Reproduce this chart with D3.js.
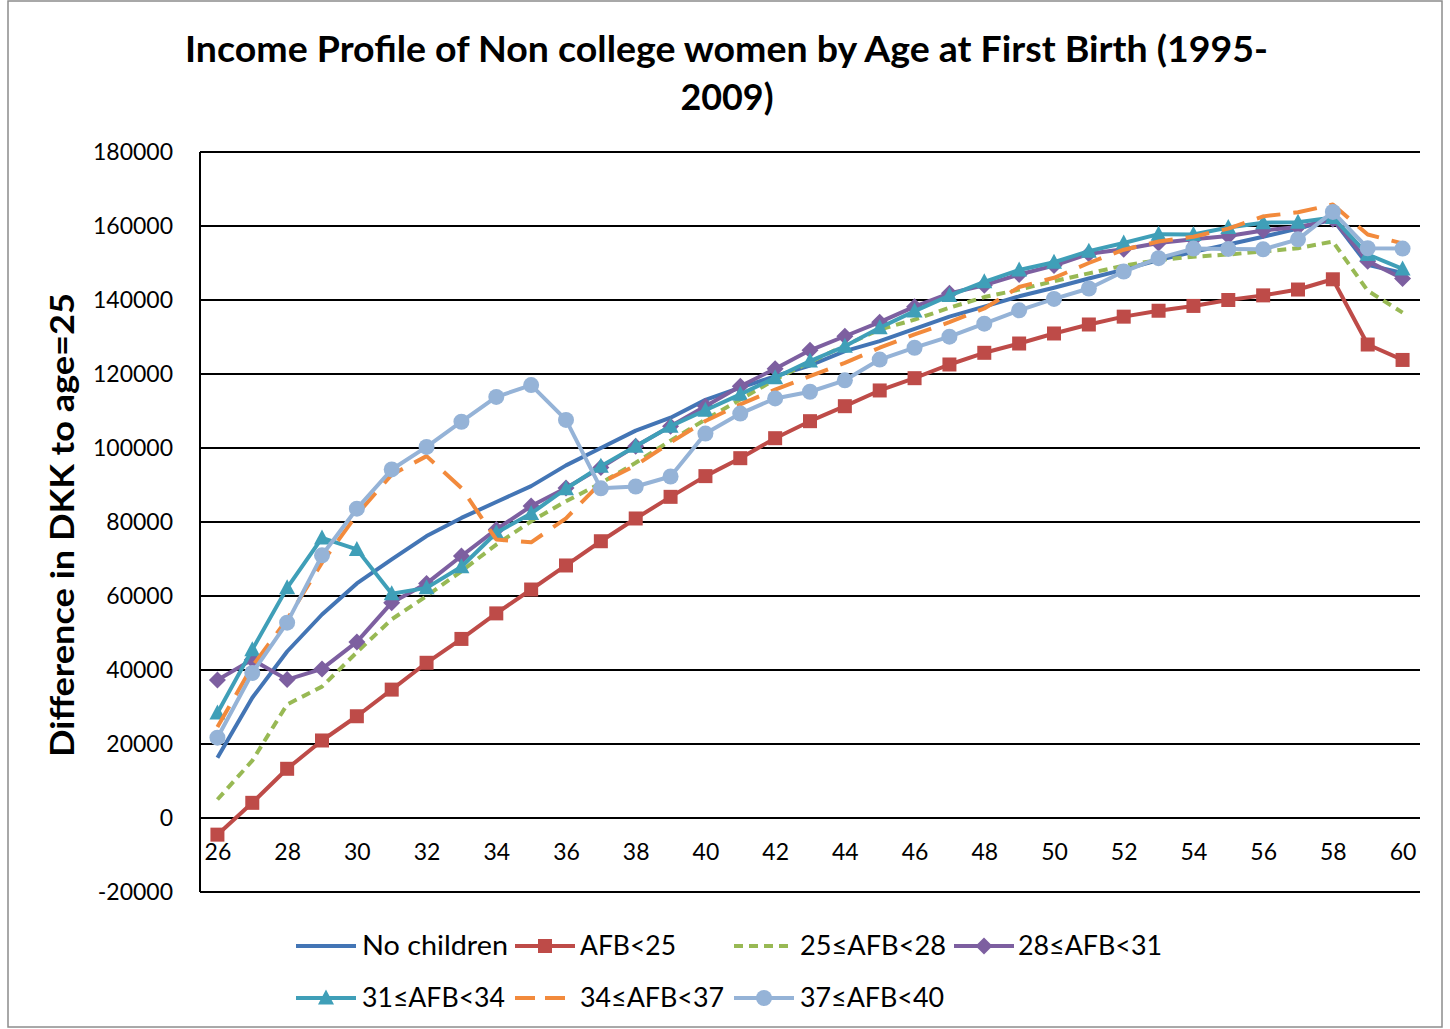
<!DOCTYPE html>
<html>
<head>
<meta charset="utf-8">
<script src="https://cdn.jsdelivr.net/npm/d3@7"></script>
<style>
  html, body { margin: 0; padding: 0; background: #fff; }
  svg { display: block; }
  text { font-family: Lato, "Open Sans", "DejaVu Sans", sans-serif; fill: #000; }
</style>
</head>
<body>
<svg id="chart" width="1450" height="1029"></svg>
<script>
// ---------- DATA ----------
const ages = [26,27,28,29,30,31,32,33,34,35,36,37,38,39,40,41,42,43,44,45,46,47,48,49,50,51,52,53,54,55,56,57,58,59,60];
const xTickLabels = [26,28,30,32,34,36,38,40,42,44,46,48,50,52,54,56,58,60];
const yTickLabels = [-20000,0,20000,40000,60000,80000,100000,120000,140000,160000,180000];

const noChildren = [16300,32500,45000,55000,63400,69900,76200,81100,85400,89700,95300,100000,104700,108200,113000,116300,119400,122300,126200,128900,132200,135500,138200,141000,143300,145800,148200,150800,153000,155000,157100,159300,161800,149500,147300];
const afbLt25 = [-4500,4100,13300,20950,27500,34700,41950,48400,55300,61750,68250,74800,80950,86800,92400,97250,102650,107250,111300,115550,118870,122570,125730,128240,130950,133380,135500,137100,138400,140000,141250,142830,145600,127970,123800];
const afb25_28 = [5000,15500,30700,35500,44800,53700,60000,66700,73900,80200,85600,90500,96000,102000,107700,113100,118500,123200,127700,132000,134700,137900,140800,142800,145100,147200,149300,150800,151700,152300,153100,154000,155800,142500,136600];
const afb28_31 = [37300,42800,37400,40300,47600,58200,63400,70800,78000,84300,89200,94700,100500,105900,111300,116700,121400,126400,130200,134000,138200,141800,144000,146900,149300,152500,153700,155400,156400,157300,158800,159700,161800,150500,145800];
const afb31_34 = [28400,45500,62200,75700,72600,60600,62200,67900,77100,82300,89000,95100,100500,105900,110200,114500,119000,123500,127500,132500,137000,141200,144900,148100,150200,153200,155400,157800,157700,159600,160900,161000,162300,152300,148400];
const afb34_37 = [24600,41000,53700,69000,82000,92800,97800,89200,75300,74500,81000,90600,95300,101500,107300,111800,115800,119400,123000,127100,130700,134000,137700,143500,146000,150000,153600,155800,157100,159300,162600,163700,165800,157700,155300];
const afb37_40 = [21700,39200,52800,71000,83600,94200,100300,107100,113800,117000,107600,89100,89600,92300,103900,109300,113400,115200,118300,123900,127100,130100,133600,137200,140300,143100,147700,151300,153900,153800,153700,156400,163800,154000,153900];

const seriesNames = ["No children","AFB<25","25≤AFB<28","28≤AFB<31","31≤AFB<34","34≤AFB<37","37≤AFB<40"];
const seriesValues = [noChildren, afbLt25, afb25_28, afb28_31, afb31_34, afb34_37, afb37_40];

// ---------- STYLES ----------
const styles = [
  {color:"#4375B5", dash:null,     marker:null},
  {color:"#BE4B48", dash:null,     marker:"square"},
  {color:"#98B954", dash:"9,6",    marker:null},
  {color:"#7D5FA0", dash:null,     marker:"diamond"},
  {color:"#3F9FB8", dash:null,     marker:"triangle"},
  {color:"#F28A3C", dash:"24,13",  marker:null},
  {color:"#95B3D7", dash:null,     marker:"circle"}
];
const legendPos = [
  {x:296, y:946, tx:362, tw:146},
  {x:515, y:946, tx:580, tw:96},
  {x:734, y:946, tx:800, tw:146},
  {x:954, y:946, tx:1018, tw:144},
  {x:296, y:998, tx:362, tw:143},
  {x:515, y:998, tx:580, tw:144},
  {x:734, y:998, tx:800, tw:144}
];

const svg = d3.select("#chart");
const plot = {left:200, right:1420, top:152, bottom:892};

// outer border
svg.append("rect").attr("x",8).attr("y",1).attr("width",1434).attr("height",1026)
  .attr("fill","#fff").attr("stroke","#8c8c8c").attr("stroke-width",1.5);

const x = d3.scalePoint().domain(ages).range([plot.left, plot.right]).padding(0.5);
const y = d3.scaleLinear().domain([-20000,180000]).range([plot.bottom, plot.top]);

// gridlines
svg.append("g").selectAll("line").data(yTickLabels).join("line")
  .attr("x1", plot.left).attr("x2", plot.right)
  .attr("y1", d => y(d)).attr("y2", d => y(d))
  .attr("stroke", "#000").attr("stroke-width", 2);

// y axis line
svg.append("line").attr("x1",plot.left).attr("x2",plot.left)
  .attr("y1",plot.top).attr("y2",plot.bottom).attr("stroke","#000").attr("stroke-width",2);

// y tick labels
const yAxis = d3.axisLeft(y).tickValues(yTickLabels).tickSize(0).tickPadding(27).tickFormat(d => String(d));
const yg = svg.append("g").attr("transform",`translate(${plot.left},0)`).call(yAxis);
yg.select(".domain").remove();
yg.selectAll("text").attr("font-size",23).attr("font-family","Lato, sans-serif").attr("fill","#000");

// x tick labels (axis crosses at 0)
const xAxis = d3.axisBottom(x).tickValues(xTickLabels).tickSize(0).tickPadding(26);
const xg = svg.append("g").attr("transform",`translate(0,${y(0)})`).call(xAxis);
xg.select(".domain").remove();
xg.selectAll("text").attr("font-size",23).attr("font-family","Lato, sans-serif").attr("fill","#000");

// title
svg.append("text").attr("x",726.5).attr("y",62).attr("text-anchor","middle")
  .attr("font-size",36).attr("font-weight","bold")
  .attr("textLength",1083).attr("lengthAdjust","spacingAndGlyphs")
  .text("Income Profile of Non college women by Age at First Birth (1995-");
svg.append("text").attr("x",727).attr("y",110).attr("text-anchor","middle")
  .attr("font-size",36).attr("font-weight","bold")
  .attr("textLength",93).attr("lengthAdjust","spacingAndGlyphs")
  .text("2009)");

// y axis title
svg.append("text").attr("transform","translate(74,525) rotate(-90)")
  .attr("text-anchor","middle").attr("font-size",32).attr("font-weight","bold")
  .attr("textLength",464).attr("lengthAdjust","spacingAndGlyphs")
  .text("Difference in DKK to age=25");

// markers
function drawMarker(g, type, cx, cy, color) {
  if (type === "square") {
    g.append("rect").attr("x",cx-7).attr("y",cy-7).attr("width",14).attr("height",14).attr("fill",color);
  } else if (type === "diamond") {
    g.append("path").attr("d",`M${cx},${cy-8.5}L${cx+8.5},${cy}L${cx},${cy+8.5}L${cx-8.5},${cy}Z`).attr("fill",color);
  } else if (type === "triangle") {
    g.append("path").attr("d",`M${cx},${cy-8.5}L${cx+8},${cy+6.5}L${cx-8},${cy+6.5}Z`).attr("fill",color);
  } else if (type === "circle") {
    g.append("circle").attr("cx",cx).attr("cy",cy).attr("r",8).attr("fill",color);
  }
}

const line = d3.line().x((d,i) => x(ages[i])).y(d => y(d));

seriesValues.forEach((vals, si) => {
  const st = styles[si];
  const g = svg.append("g");
  g.append("path").datum(vals).attr("d", line)
    .attr("fill","none").attr("stroke", st.color).attr("stroke-width", 4)
    .attr("stroke-linejoin","round")
    .attr("stroke-dasharray", st.dash);
  if (st.marker) {
    vals.forEach((v,i) => drawMarker(g, st.marker, x(ages[i]), y(v), st.color));
  }
});

// legend
seriesNames.forEach((name, si) => {
  const st = styles[si], p = legendPos[si];
  const g = svg.append("g");
  g.append("line").attr("x1",p.x).attr("x2",p.x+60).attr("y1",p.y).attr("y2",p.y)
    .attr("stroke",st.color).attr("stroke-width",4).attr("stroke-dasharray", st.dash ? (si===2 ? "9,6" : "20,10") : null);
  if (st.marker) drawMarker(g, st.marker, p.x+30, p.y, st.color);
  g.append("text").attr("x",p.tx).attr("y",p.y+9).attr("font-size",27)
    .attr("textLength",p.tw).attr("lengthAdjust","spacingAndGlyphs").text(name);
});
</script>
</body>
</html>
